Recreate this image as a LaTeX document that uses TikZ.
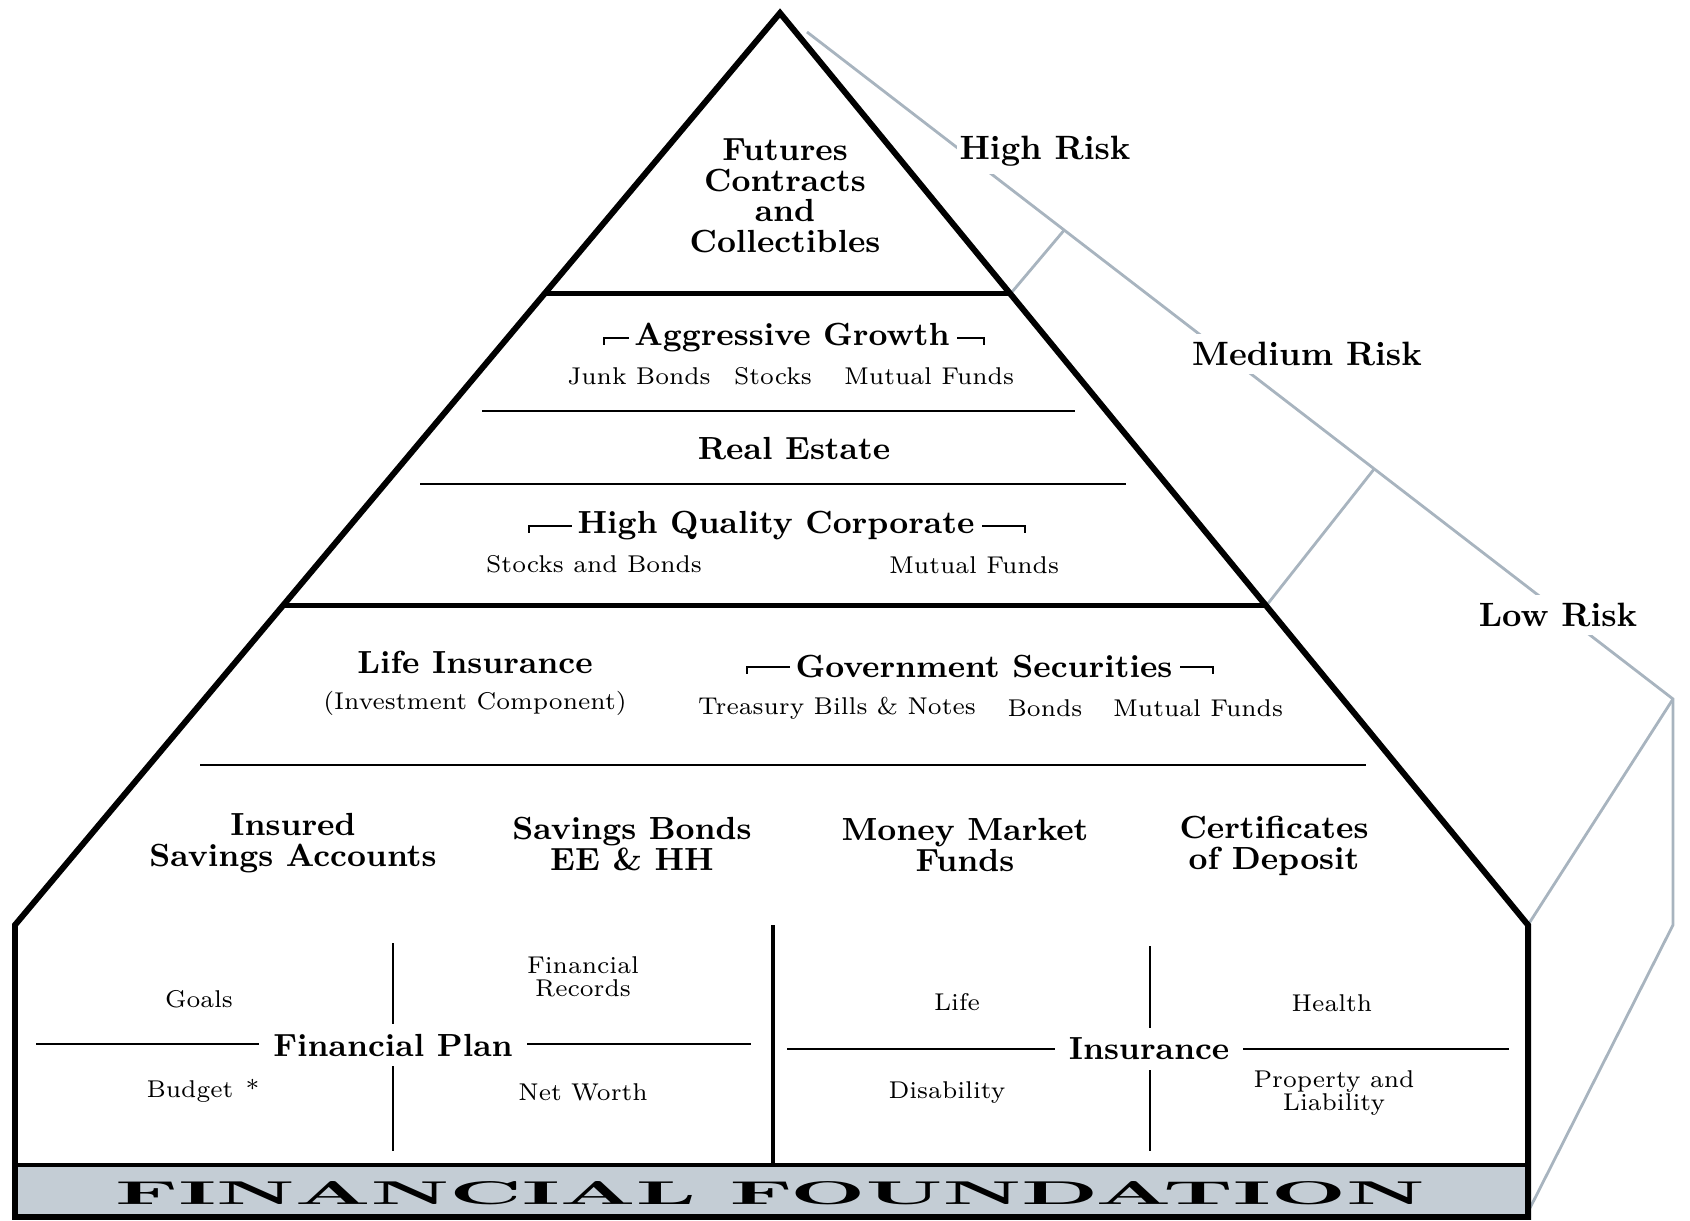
\documentclass[tikz,border=0pt]{standalone}
\usepackage{fontspec}
\usepackage{graphicx}
\usetikzlibrary{positioning}
\usetikzlibrary{calc}
\definecolor{ridgegray}{RGB}{168,180,191}
\definecolor{bandgray}{RGB}{196,205,213}
\tikzset{
  bigtext/.style={font=\fontsize{9.1}{8.7}\selectfont\bfseries, align=center, inner sep=0pt},
  smalltext/.style={font=\fontsize{6.9}{6.6}\selectfont, align=center, inner sep=0pt},
  risklabel/.style={font=\fontsize{9.6}{9}\selectfont\bfseries, fill=white, inner xsep=0.03cm, inner ysep=0.08cm},
  crosslabel/.style={bigtext, fill=white, inner xsep=0.14cm, inner ysep=0.1cm},
  heavy/.style={line width=1.7pt, line join=miter},
  divider/.style={line width=1.4pt},
  hairline/.style={line width=0.6pt},
  ridge/.style={draw=ridgegray, line width=0.8pt},
}
\newcommand{\groupbracket}[3]{%
  \draw[hairline] ([xshift=-0.05cm]#1.west) -- ++(-#2,0) -- ++(0,7);
  \draw[hairline] ([xshift=0.07cm]#1.east) -- ++(#3,0) -- ++(0,7);}
\begin{document}
\begin{tikzpicture}[x=0.01cm, y=-0.01cm]
    \useasboundingbox (0,0) rectangle (1690,1221);

        % Corner points
        \coordinate (apex) at (780,13);
        \coordinate (bl) at (15,925);
        \coordinate (br) at (1528,925);
        \coordinate (fbl) at (15,1217);
        \coordinate (fbr) at (1528,1217);

        % Grey side of the block
        \coordinate (rt) at (807,32);
        \coordinate (rb) at (1673,699);
        \coordinate (bb) at (1673,925);
        \coordinate (fb) at (1530,1208);
        \draw[ridge] (rt) -- (rb) -- (bb) -- (fb);
        \draw[ridge] (rb) -- (br);
        \draw[ridge] ($(rt)!0.297!(rb)$) -- ($(apex)!0.308!(br)$);
        \draw[ridge] ($(rt)!0.655!(rb)$) -- ($(apex)!0.650!(br)$);

        \node[risklabel] (highrisk) at (1045,151) {High Risk};
        \node[risklabel] (medrisk) at (1307,354) {Medium Risk};
        \node[risklabel] (lowrisk) at (1558,615) {Low Risk};

        % Foundation band
        \fill[bandgray] (15,1165) rectangle (fbr);
        \node[inner sep=0pt] (found) at (770,1193) {\resizebox{13.09cm}{0.23cm}{\bfseries FINANCIAL FOUNDATION}};

        % Pyramid and base block
        \draw[heavy] (bl) -- (apex) -- (br) -- (fbr) -- (fbl) -- cycle;
        \draw[divider] ($(apex)!0.308!(bl)$) -- ($(apex)!0.308!(br)$);
        \draw[divider] ($(apex)!0.650!(bl)$) -- ($(apex)!0.650!(br)$);
        \draw[divider] (15,1165) -- (1528,1165);
        \draw[divider] (773,925) -- (773,1165);
        \draw[hairline] (482,411) -- (1075,411);
        \draw[hairline] (420,484) -- (1126,484);
        \draw[hairline] (200,765) -- (1366,765);

        % Top tier
        \node[bigtext] (futures) at (785,196) {Futures\\Contracts\\and\\Collectibles};

        % Middle tier
        \node[bigtext] (aggr) at (792,338) {Aggressive Growth};
        \groupbracket{aggr}{25}{27}
        \node[smalltext] (junk) at (639,376) {Junk Bonds};
        \node[smalltext] (stocks) at (773,376) {Stocks};
        \node[smalltext] (mfa) at (929,376) {Mutual Funds};
        \node[bigtext] (realest) at (794,449) {Real Estate};
        \node[bigtext] (hqc) at (776,526) {High Quality Corporate};
        \groupbracket{hqc}{43}{43}
        \node[smalltext] (stbonds) at (594,564) {Stocks and Bonds};
        \node[smalltext] (mfb) at (974,565) {Mutual Funds};

        % Lower tier
        \node[bigtext] (lifeins) at (475,662) {Life Insurance};
        \node[smalltext, below=0.17cm of lifeins] (invcomp) {(Investment Component)};
        \node[bigtext] (govsec) at (984,667) {Government Securities};
        \groupbracket{govsec}{43}{33}
        \node[smalltext] (tbills) at (837,708) {Treasury Bills \& Notes};
        \node[smalltext] (bonds) at (1045,708) {Bonds};
        \node[smalltext] (mfc) at (1198,708) {Mutual Funds};
        \node[bigtext] (insav) at (293,843) {Insured\\Savings Accounts};
        \node[bigtext] (savbonds) at (632,844) {Savings Bonds\\EE \& HH};
        \node[bigtext] (money) at (965,845) {Money Market\\Funds};
        \node[bigtext] (cds) at (1274,846) {Certificates\\of Deposit};

        % Financial plan box
        \draw[hairline] (36,1044) -- (751,1044);
        \draw[hairline] (393,943) -- (393,1151);
        \node[crosslabel] (finplan) at (393,1045) {Financial Plan};
        \node[smalltext] (goals) at (199,999) {Goals};
        \node[smalltext] (records) at (583,977) {Financial\\Records};
        \node[smalltext] (budget) at (203,1091) {Budget\enspace*};
        \node[smalltext] (networth) at (583,1092) {Net Worth};

        % Insurance box
        \draw[hairline] (787,1049) -- (1509,1049);
        \draw[hairline] (1150,946) -- (1150,1151);
        \node[crosslabel] (insur) at (1149,1049) {Insurance};
        \node[smalltext] (life) at (957,1002) {Life};
        \node[smalltext] (health) at (1332,1003) {Health};
        \node[smalltext] (disab) at (947,1093) {Disability};
        \node[smalltext] (property) at (1334,1093) {Property and\\Liability};

\end{tikzpicture}
\end{document}
